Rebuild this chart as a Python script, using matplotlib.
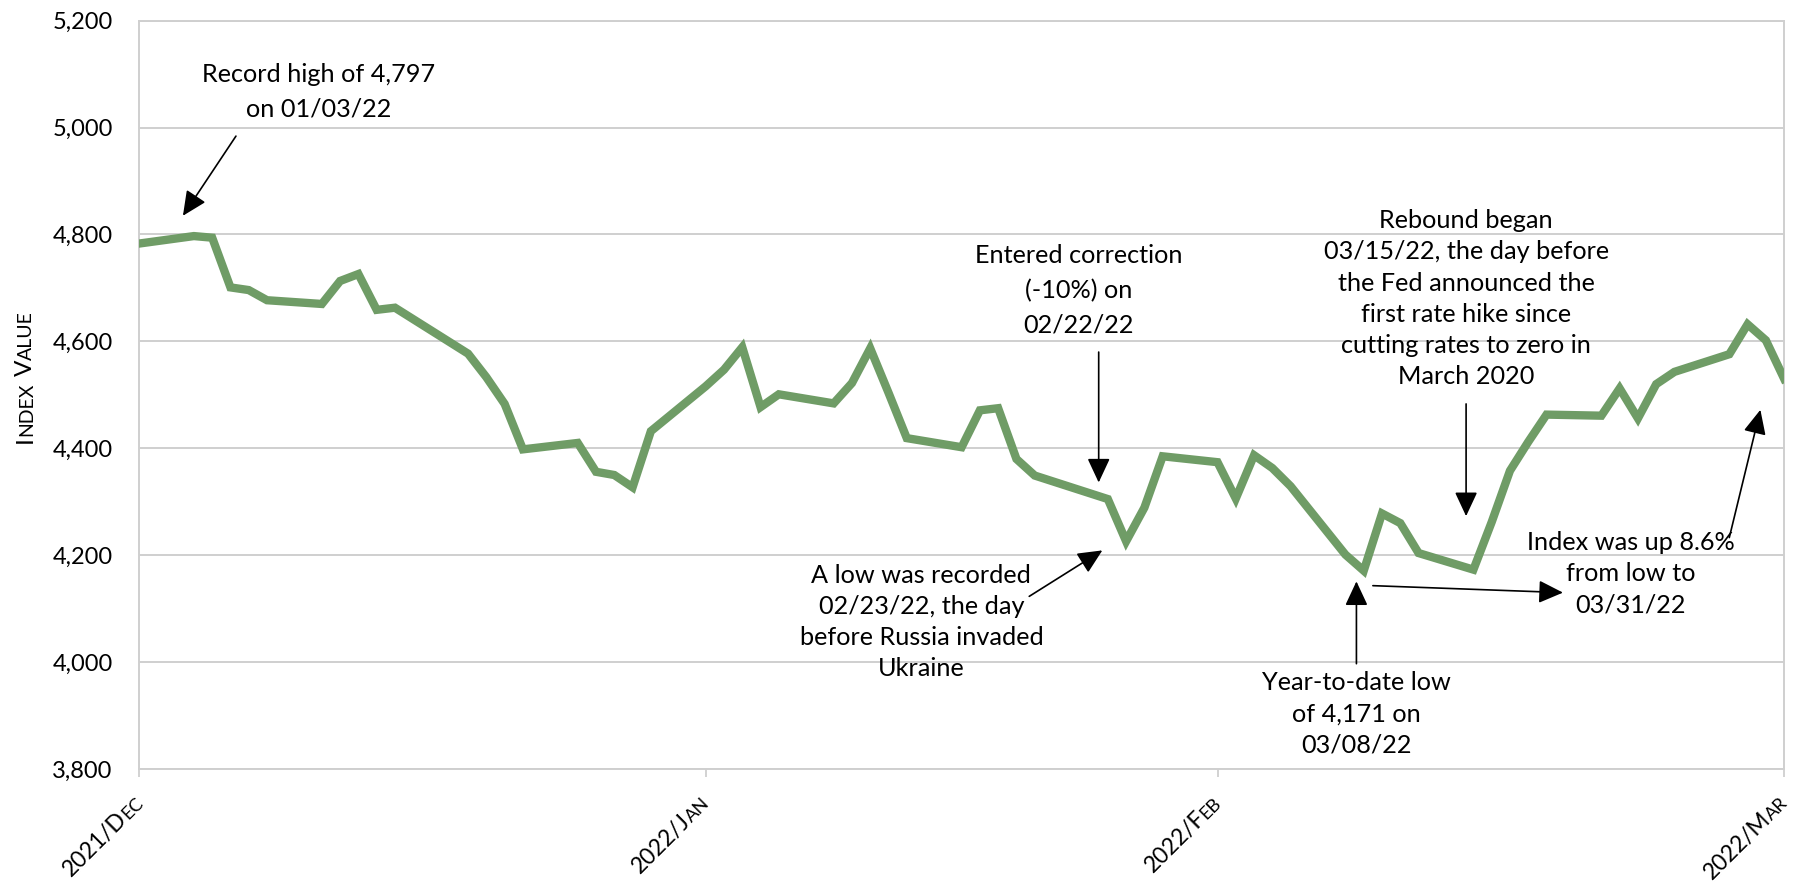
import numpy as np
import pandas as pd
import matplotlib
matplotlib.use("Agg")
import matplotlib.pyplot as plt
import matplotlib.dates as mdates
from matplotlib.transforms import IdentityTransform
from matplotlib.ticker import FuncFormatter

# S&P 500 closes, end of 2021 through Q1 2022
dates = ["2021-12-31", "2022-01-03", "2022-01-04", "2022-01-05", "2022-01-06", "2022-01-07",
         "2022-01-10", "2022-01-11", "2022-01-12", "2022-01-13", "2022-01-14", "2022-01-18",
         "2022-01-19", "2022-01-20", "2022-01-21", "2022-01-24", "2022-01-25", "2022-01-26",
         "2022-01-27", "2022-01-28", "2022-01-31", "2022-02-01", "2022-02-02", "2022-02-03",
         "2022-02-04", "2022-02-07", "2022-02-08", "2022-02-09", "2022-02-10", "2022-02-11",
         "2022-02-14", "2022-02-15", "2022-02-16", "2022-02-17", "2022-02-18", "2022-02-22",
         "2022-02-23", "2022-02-24", "2022-02-25", "2022-02-28", "2022-03-01", "2022-03-02",
         "2022-03-03", "2022-03-04", "2022-03-07", "2022-03-08", "2022-03-09", "2022-03-10",
         "2022-03-11", "2022-03-14", "2022-03-15", "2022-03-16", "2022-03-17", "2022-03-18",
         "2022-03-21", "2022-03-22", "2022-03-23", "2022-03-24", "2022-03-25", "2022-03-28",
         "2022-03-29", "2022-03-30", "2022-03-31"]
closes = [4783, 4797, 4794, 4701, 4696, 4677,
          4670, 4713, 4726, 4659, 4663, 4577,
          4533, 4483, 4398, 4410, 4356, 4350,
          4327, 4432, 4516, 4547, 4589, 4477,
          4501, 4484, 4522, 4587, 4504, 4419,
          4402, 4471, 4475, 4380, 4349, 4305,
          4226, 4289, 4385, 4374, 4306, 4387,
          4363, 4329, 4201, 4171, 4278, 4260,
          4204, 4173, 4262, 4358, 4412, 4463,
          4461, 4512, 4456, 4520, 4543, 4576,
          4632, 4602, 4530]

tick_dates = ["2021-12-31", "2022-01-31", "2022-02-28", "2022-03-31"]
tick_labels = ["2021/Dec", "2022/Jan", "2022/Feb", "2022/Mar"]
y_ticks = [3800, 4000, 4200, 4400, 4600, 4800, 5000, 5200]

FONT = "Lato"
plt.rcParams["font.family"] = FONT
GRID = "#cfcfcf"
GREEN = "#6f9c66"

fig = plt.figure(figsize=(18.06, 8.83), dpi=100)
ax = fig.add_axes([0.0770, 0.1291, 0.9109, 0.8475])

x = mdates.date2num(pd.to_datetime(dates))
ax.plot(x, closes, color=GREEN, lw=6, solid_joinstyle="miter", zorder=3)

base = mdates.date2num(pd.Timestamp("2021-12-31"))
ax.set_xlim(base, base + 90)
ax.set_ylim(3800, 5200)
ax.set_yticks(y_ticks)
ax.yaxis.set_major_formatter(FuncFormatter(lambda v, p: f"{v:,.0f}"))
ax.tick_params(axis="y", length=0, pad=19, labelsize=17)
ax.set_xticks(mdates.date2num(pd.to_datetime(tick_dates)))
ax.set_xticklabels([""] * len(tick_dates))
ax.tick_params(axis="x", length=6, width=1.3, color=GRID, direction="out")
ax.grid(axis="y", color=GRID, lw=1.4)
ax.set_axisbelow(True)
for sp in ax.spines.values():
    sp.set_color(GRID)
    sp.set_linewidth(1.4)

fig.canvas.draw()
renderer = fig.canvas.get_renderer()


def text_width(s, size):
    t = fig.text(0, 0, s, fontsize=size)
    w = t.get_window_extent(renderer).width
    t.remove()
    return w


def caps_pieces(s, size, small=0.8):
    # split a string into runs of full caps and small caps
    pieces = []
    for ch in s:
        if ch == " ":
            pieces.append((" ", size))
            continue
        sz = size * small if ch.islower() else size
        if pieces and pieces[-1][1] == sz and pieces[-1][0] != " ":
            pieces[-1] = (pieces[-1][0] + ch.upper(), sz)
        else:
            pieces.append((ch.upper(), sz))
    return pieces


def piece_len(txt, size):
    if txt == " ":
        return text_width("x x", size) - text_width("xx", size)
    return text_width(txt, size)


def draw_caps(s, size, x0, y0, angle, align="left"):
    pieces = caps_pieces(s, size)
    c, sn = np.cos(np.radians(angle)), np.sin(np.radians(angle))
    total = sum(piece_len(t, z) for t, z in pieces)
    if align == "right":
        pos = -total
    elif align == "center":
        pos = -total / 2
    else:
        pos = 0
    for t, z in pieces:
        if t != " ":
            fig.text(x0 + pos * c, y0 + pos * sn, t, fontsize=z, rotation=angle,
                     rotation_mode="anchor", ha="left", va="baseline",
                     transform=IdentityTransform())
        pos += piece_len(t, z)


# month labels under the axis, 45 degrees
bottom_px = ax.get_window_extent(renderer).y0
for d, lab in zip(tick_dates, tick_labels):
    tx = ax.transData.transform((mdates.date2num(pd.Timestamp(d)), 3800))[0]
    draw_caps(lab, 16.5, tx + 5, bottom_px - 35, 45, align="right")

# y axis title
draw_caps("Index Value", 17.5, 32, 883 - 377, 90, align="center")


def day(n):
    return base + n


notes = [
    ("Record high of 4,797\non 01/03/22", 9.8, 5067, 1.6),
    ("Entered correction\n(-10%) on\n02/22/22", 51.4, 4695, 1.6),
    ("A low was recorded\n02/23/22, the day\nbefore Russia invaded\nUkraine", 42.8, 4075, 1.43),
    ("Year-to-date low\nof 4,171 on\n03/08/22", 66.6, 3903, 1.43),
    ("Index was up 8.6%\nfrom low to\n03/31/22", 81.6, 4165, 1.43),
    ("Rebound began\n03/15/22, the day before\nthe Fed announced the\nfirst rate hike since\n"
     "cutting rates to zero in\nMarch 2020", 72.6, 4680, 1.43),
]
for txt, dx, vy, ls in notes:
    ax.text(day(dx), vy, txt, ha="center", va="center", multialignment="center",
            fontsize=18.2, linespacing=ls, zorder=4)

arrows = [
    ((5.3, 4984), (2.4, 4835)),
    ((52.5, 4580), (52.5, 4336)),
    ((48.7, 4123), (52.7, 4209)),
    ((66.6, 3997), (66.6, 4151)),
    ((67.5, 4143), (77.9, 4130)),
    ((87.0, 4233), (88.7, 4472)),
    ((72.6, 4483), (72.6, 4273)),
]
for (t0, v0), (t1, v1) in arrows:
    ax.annotate("", xy=(day(t1), v1), xytext=(day(t0), v0),
                arrowprops=dict(arrowstyle="-|>,head_length=0.75,head_width=0.35",
                                color="black", lw=1.2, mutation_scale=20,
                                shrinkA=0, shrinkB=0), zorder=5)

fig.savefig("out.png", dpi=100)
